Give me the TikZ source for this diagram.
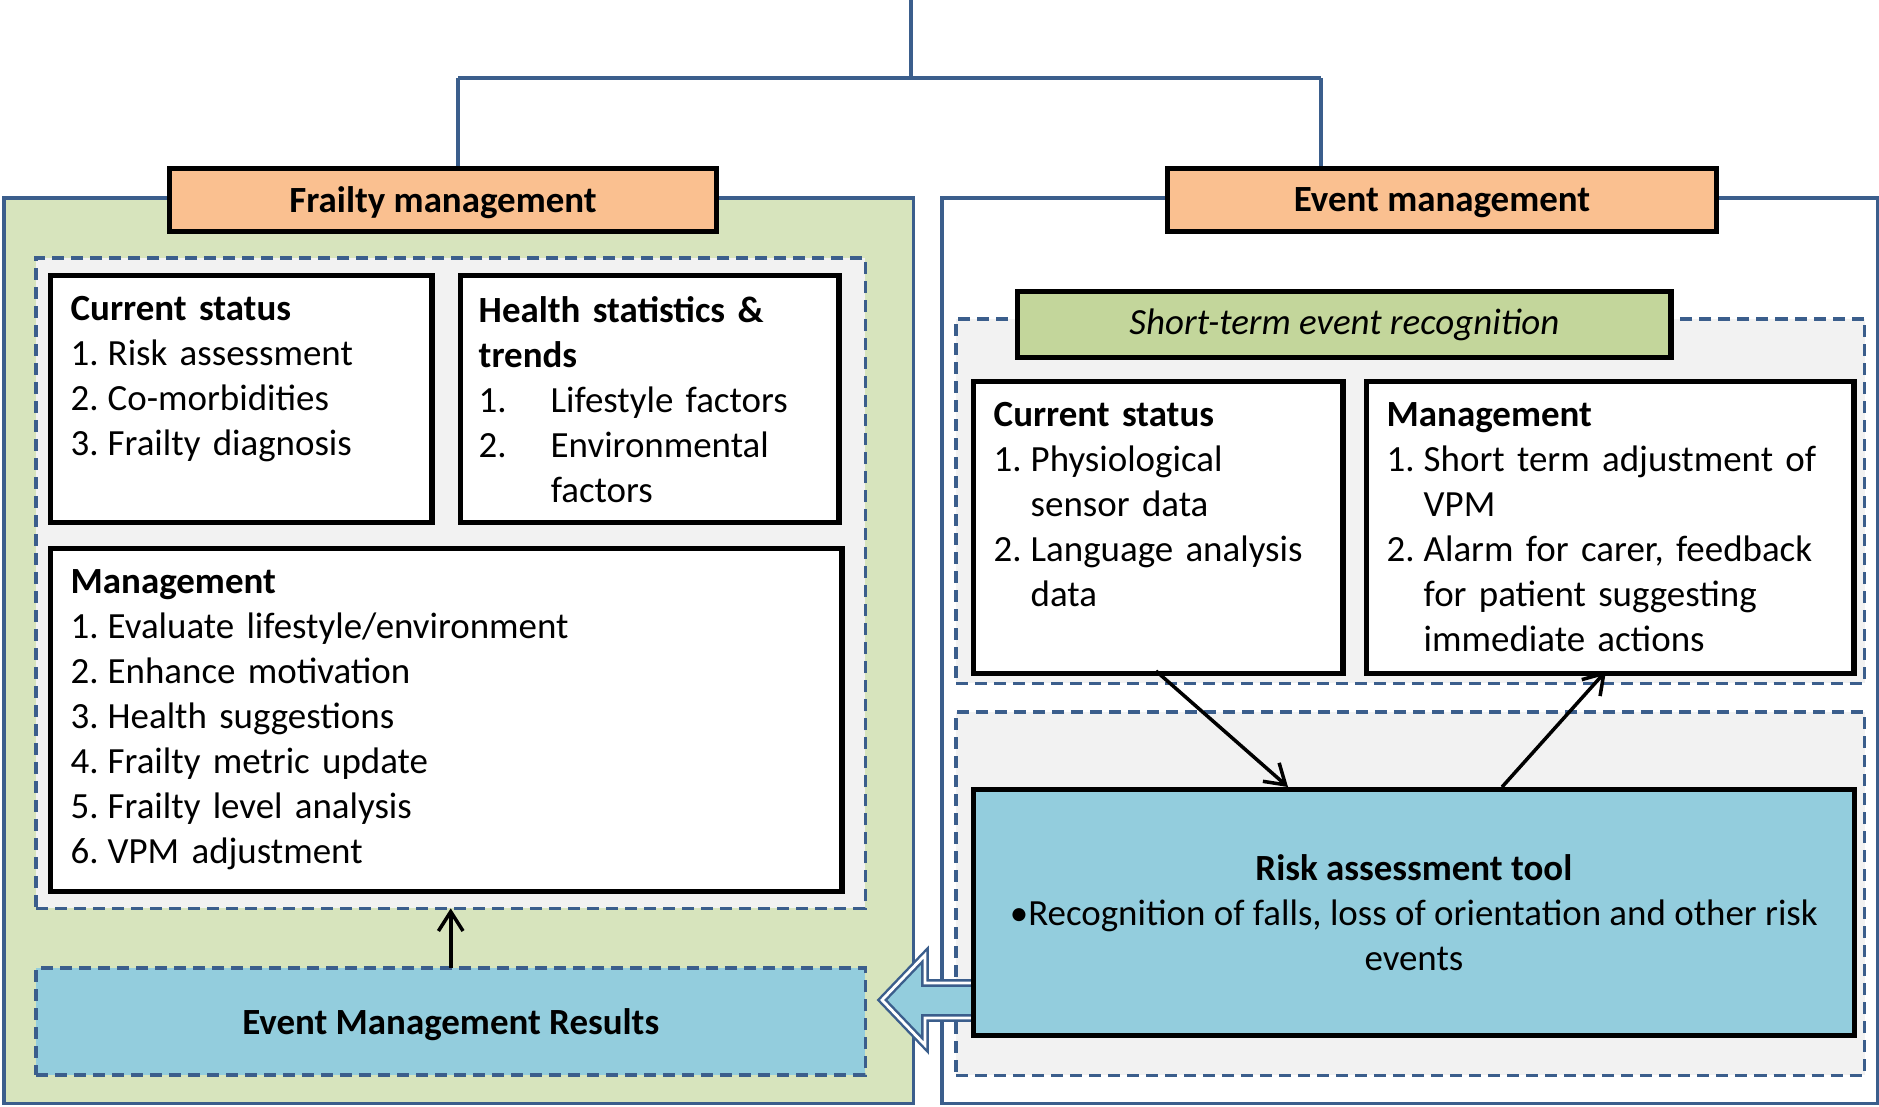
\documentclass[tikz,border=0pt]{standalone}
\usepackage{fontspec}
\setmainfont{Carlito}
\usetikzlibrary{arrows.meta}

\definecolor{lineblue}{HTML}{3B5E8C}
\definecolor{panelgreen}{HTML}{D7E4BD}
\definecolor{titleorange}{HTML}{FAC090}
\definecolor{labelgreen}{HTML}{C3D69B}
\definecolor{toolblue}{HTML}{93CDDD}
\definecolor{regiongray}{HTML}{F2F2F2}

\newcommand\numline[3]{\hangindent=#1\hangafter=1\noindent\makebox[#1][l]{#2}#3\par}

\begin{document}
\begin{tikzpicture}[x=0.01cm,y=-0.01cm]

\def\numw{0.37cm}

\tikzstyle{panel}=[rectangle,draw=lineblue,line width=0.9pt,anchor=north west,inner sep=0pt,outer sep=0pt]
\tikzstyle{region}=[panel,fill=regiongray,dashed,dash pattern=on 0.12cm off 0.07cm]
\tikzstyle{whitebox}=[rectangle,draw=black,line width=1.5pt,fill=white,anchor=north west,inner sep=0pt]
\tikzstyle{titlebox}=[whitebox,fill=titleorange,anchor=center,font=\bfseries,text depth=0pt]
\tikzstyle{listtext}=[anchor=north west,align=left,inner sep=0pt]
\tikzstyle{conn}=[draw=lineblue,line width=0.9pt]
\tikzstyle{flow}=[->,line width=1pt,>={Straight Barb[length=5.5pt,width=7pt,line width=1pt]}]

\useasboundingbox (0,0) rectangle (1879,1106);
\fontsize{10.5}{12.8}\selectfont
\hyphenpenalty=10000
\exhyphenpenalty=10000

%Top connectors
\coordinate (top) at (911,0);
\coordinate (hub) at (911,78);
\coordinate (ldrop) at (458,78);
\coordinate (rdrop) at (1321,78);

%Panels
\node[panel,fill=panelgreen,minimum width=9.09cm,minimum height=9.05cm] (frailPanel) at (4,198) {};
\node[panel,fill=white,minimum width=9.35cm,minimum height=9.05cm] (eventPanel) at (942,198) {};

%Frailty side
\node[region,minimum width=8.29cm,minimum height=6.5cm] (frailRegion) at (36,258) {};
\node[whitebox,minimum width=3.81cm,minimum height=2.47cm] (curL) at (48,273) {};
\node[whitebox,minimum width=3.78cm,minimum height=2.47cm] (health) at (458,273) {};
\node[whitebox,minimum width=7.91cm,minimum height=3.43cm] (mgmtL) at (48,546) {};
\node[region,fill=toolblue,minimum width=8.29cm,minimum height=1.07cm,text depth=0pt] (results) at (36,968) {\textbf{Event Management Results}};

\node[listtext,text width=3.4cm] (curLtext) at ([shift={(22,23)}]curL.north west) {
\textbf{Current status}\par
\numline{\numw}{1.}{Risk assessment}
\numline{\numw}{2.}{Co-morbidities}
\numline{\numw}{3.}{Frailty diagnosis}};

\node[listtext,text width=3.4cm] (healthtext) at ([shift={(20,23)}]health.north west) {
\textbf{Health statistics \&}\par
\textbf{trends}\par
\numline{0.72cm}{1.}{Lifestyle factors}
\numline{0.72cm}{2.}{Environmental factors}};

\node[listtext,text width=7.4cm] (mgmtLtext) at ([shift={(22,23)}]mgmtL.north west) {
\textbf{Management}\par
\numline{\numw}{1.}{Evaluate lifestyle/environment}
\numline{\numw}{2.}{Enhance motivation}
\numline{\numw}{3.}{Health suggestions}
\numline{\numw}{4.}{Frailty metric update}
\numline{\numw}{5.}{Frailty level analysis}
\numline{\numw}{6.}{VPM adjustment}};

%Event side
\node[region,minimum width=9.08cm,minimum height=3.64cm] (shortRegion) at (956,319) {};
\node[region,minimum width=9.08cm,minimum height=3.63cm] (toolRegion) at (956,712) {};
\node[whitebox,fill=labelgreen,minimum width=6.53cm,minimum height=0.66cm] (shortTerm) at (1015,289) {\itshape Short-term event recognition};
\node[whitebox,minimum width=3.69cm,minimum height=2.92cm] (curR) at (971,379) {};
\node[whitebox,minimum width=4.87cm,minimum height=2.92cm] (mgmtR) at (1364,379) {};

\node[listtext,text width=3.2cm] (curRtext) at ([shift={(22,23)}]curR.north west) {
\textbf{Current status}\par
\numline{\numw}{1.}{Physiological sensor data}
\numline{\numw}{2.}{Language analysis data}};

\node[listtext,text width=4.4cm] (mgmtRtext) at ([shift={(22,23)}]mgmtR.north west) {
\textbf{Management}\par
\numline{\numw}{1.}{Short term adjustment of VPM}
\numline{\numw}{2.}{Alarm for carer, feedback for patient suggesting immediate actions}};

%Block arrow to results
\draw[conn,line width=0.7pt,double=white,double distance=0.8pt,fill=toolblue,line join=miter] (971,983) -- (925,983) -- (925,955) -- (882,1000) -- (925,1045) -- (925,1018) -- (971,1018);

\node[whitebox,fill=toolblue,minimum width=8.8cm,minimum height=2.46cm] (tool) at (971,787) {};
\node[align=center,inner sep=0pt] (tooltext) at (tool.center) {
\textbf{Risk assessment tool}\\
\textbullet Recognition of falls, loss of orientation and other risk\\
events};

%Titles
\node[titlebox,minimum width=5.47cm,minimum height=0.63cm] (frailTitle) at (443,200) {Frailty management};
\node[titlebox,minimum width=5.48cm,minimum height=0.63cm] (eventTitle) at (1442,200) {Event management};

\draw[conn] (top) -- (hub);
\draw[conn] (ldrop) -- (rdrop);
\draw[conn] (ldrop) -- (ldrop |- frailTitle.north);
\draw[conn] (rdrop) -- (rdrop |- eventTitle.north);

%Flow arrows
\draw[flow] (results.north) -- (results.north |- frailRegion.south);
\draw[flow] (1156,671) -- (1288,787);
\draw[flow] (1502,787) -- (1606,671);

\end{tikzpicture}
\end{document}
